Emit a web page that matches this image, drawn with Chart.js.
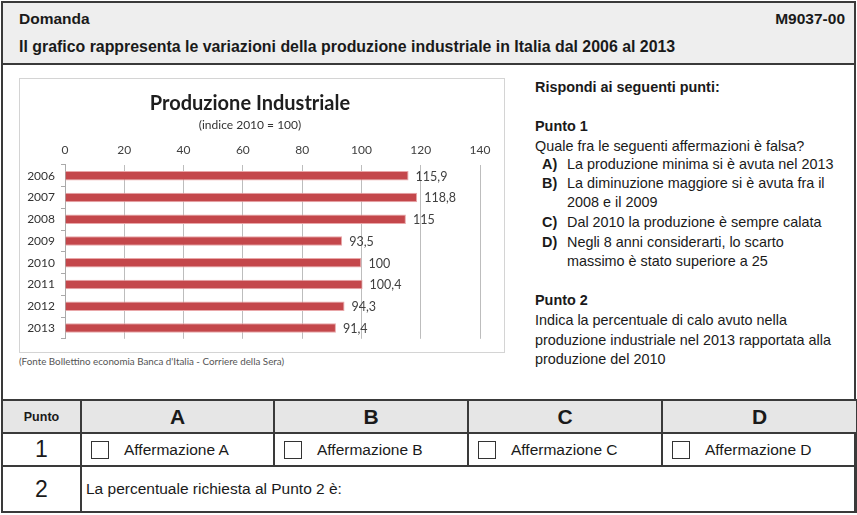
<!DOCTYPE html>
<html>
<head>
<meta charset="utf-8">
<script src="https://cdn.jsdelivr.net/npm/chart.js@4/dist/chart.umd.min.js"></script>
<style>
  html, body { margin:0; padding:0; background:#fff; }
  body { width:857px; height:515px; position:relative; overflow:hidden; font-family:"Liberation Sans", Arial, sans-serif; color:#1a1a1a; }
  .frame { position:absolute; left:1px; top:1px; width:855px; height:512px; box-sizing:border-box; border:2px solid #3a3a3a; }
  .header { position:absolute; left:3px; top:3px; width:851px; height:60px; background:#eeeeee; border-bottom:2px solid #3a3a3a; }
  .abs { position:absolute; white-space:nowrap; }
  .hb { font-weight:bold; font-size:15.5px; }
  .chartbox { position:absolute; left:19px; top:78px; width:486px; height:275px; box-sizing:border-box; border:1px solid #d4d4d4; background:#fff; }
  .src { position:absolute; left:19px; top:355px; font-family:Lato, sans-serif; font-size:9.8px; color:#555; white-space:nowrap; }
  .rt { position:absolute; left:535px; font-size:14.4px; white-space:nowrap; line-height:1; }
  .rt b { font-weight:bold; }
  .lbl { position:absolute; left:542px; font-weight:bold; font-size:14.4px; line-height:1; }
  .itm { position:absolute; left:567px; font-size:14.4px; white-space:nowrap; line-height:1; }
  table.ans { position:absolute; left:1px; top:399px; border-collapse:collapse; table-layout:fixed; width:855px; }
  table.ans td { border:2px solid #3a3a3a; padding:0; }
  tr.h td { background:#e6e6e6; height:31px; text-align:center; font-weight:bold; font-size:21px; }
  tr.h td.p { font-size:12.5px; }
  tr.r1 td { height:31px; font-size:15.5px; }
  tr.r2 td { height:44px; font-size:15.5px; }
  td.num { text-align:center; font-size:23px !important; }
  .cb { display:flex; align-items:center; padding-left:9px; }
  .box { width:16px; height:16px; border:1px solid #333; margin-right:15px; }
</style>
</head>
<body>
<div class="frame"></div>
<div class="header"></div>
<div class="abs hb" style="left:19px; top:10px;">Domanda</div>
<div class="abs hb" style="right:12px; top:10px;">M9037-00</div>
<div class="abs hb" style="left:19px; top:38px; font-size:15.9px;">Il grafico rappresenta le variazioni della produzione industriale in Italia dal 2006 al 2013</div>

<div class="chartbox"><canvas id="c"></canvas></div>
<div class="src">(Fonte Bollettino economia Banca d'Italia - Corriere della Sera)</div>

<div class="rt" style="top:80px;"><b>Rispondi ai seguenti punti:</b></div>
<div class="rt" style="top:119px;"><b>Punto 1</b></div>
<div class="rt" style="top:139px;">Quale fra le seguenti affermazioni è falsa?</div>
<div class="lbl" style="top:157px;">A)</div><div class="itm" style="top:157px;">La produzione minima si è avuta nel 2013</div>
<div class="lbl" style="top:176px;">B)</div><div class="itm" style="top:176px;">La diminuzione maggiore si è avuta fra il</div>
<div class="itm" style="top:195px;">2008 e il 2009</div>
<div class="lbl" style="top:215px;">C)</div><div class="itm" style="top:215px;">Dal 2010 la produzione è sempre calata</div>
<div class="lbl" style="top:235px;">D)</div><div class="itm" style="top:235px;">Negli 8 anni considerarti, lo scarto</div>
<div class="itm" style="top:254px;">massimo è stato superiore a 25</div>
<div class="rt" style="top:293px;"><b>Punto 2</b></div>
<div class="rt" style="top:313px;">Indica la percentuale di calo avuto nella</div>
<div class="rt" style="top:333px;">produzione industriale nel 2013 rapportata alla</div>
<div class="rt" style="top:352px;">produzione del 2010</div>

<table class="ans">
  <colgroup><col style="width:79px"><col style="width:193px"><col style="width:194px"><col style="width:194px"><col style="width:195px"></colgroup>
  <tr class="h"><td class="p">Punto</td><td>A</td><td>B</td><td>C</td><td>D</td></tr>
  <tr class="r1"><td class="num">1</td>
    <td><div class="cb"><span class="box"></span>Affermazione A</div></td>
    <td><div class="cb"><span class="box"></span>Affermazione B</div></td>
    <td><div class="cb"><span class="box"></span>Affermazione C</div></td>
    <td><div class="cb"><span class="box"></span>Affermazione D</div></td></tr>
  <tr class="r2"><td class="num">2</td><td colspan="4" style="padding-left:4px;">La percentuale richiesta al Punto 2 è:</td></tr>
</table>

<script>
const categories = ['2006','2007','2008','2009','2010','2011','2012','2013'];
const values = [115.9, 118.8, 115, 93.5, 100, 100.4, 94.3, 91.4];
const xMin = 0, xMax = 140, xStep = 20;
const chartTitle = 'Produzione Industriale';
const chartSubtitle = '(indice 2010 = 100)';

const valueLabels = {
  id: 'valueLabels',
  afterDatasetsDraw(chart) {
    const ctx = chart.ctx;
    const meta = chart.getDatasetMeta(0);
    ctx.save();
    ctx.font = '12.5px Lato, sans-serif';
    ctx.fillStyle = '#404040';
    ctx.textAlign = 'left';
    ctx.textBaseline = 'middle';
    meta.data.forEach((el, i) => {
      const txt = String(chart.data.datasets[0].data[i]).replace('.', ',');
      ctx.fillText(txt, el.x + 7, el.y + 1);
    });
    ctx.restore();
  }
};

new Chart(document.getElementById('c'), {
  type: 'bar',
  data: {
    labels: categories,
    datasets: [{
      data: values,
      backgroundColor: '#C4474B',
      borderColor: '#E9A7A9',
      borderWidth: 1,
      barPercentage: 0.44,
      categoryPercentage: 1
    }]
  },
  options: {
    indexAxis: 'y',
    responsive: true,
    maintainAspectRatio: false,
    animation: false,
    devicePixelRatio: 1,
    layout: { padding: { left: 0, right: 24, top: 0, bottom: 11 } },
    plugins: {
      legend: { display: false },
      tooltip: { enabled: false },
      title: { display: true, text: chartTitle, color: '#1e1e1e',
        font: { family: 'Lato', size: 20, weight: 'bold' }, padding: { top: 13, bottom: 0 } },
      subtitle: { display: true, text: chartSubtitle, color: '#333',
        font: { family: 'Lato', size: 12 }, padding: { top: 2, bottom: 4 } }
    },
    scales: {
      x: {
        position: 'top', min: xMin, max: xMax,
        ticks: { stepSize: xStep, color: '#404040', font: { family: 'Lato', size: 12 }, padding: 7 },
        grid: { color: '#bdbdbd', drawTicks: false },
        border: { display: false }
      },
      y: {
        ticks: { color: '#333', font: { family: 'Lato', size: 12 }, padding: 6 },
        grid: { drawOnChartArea: false, drawTicks: true, tickLength: 4, color: '#aaa' },
        border: { display: true, color: '#aaa' },
        afterFit(s) { s.width = 45; }
      }
    }
  },
  plugins: [valueLabels]
});
</script>
</body>
</html>
